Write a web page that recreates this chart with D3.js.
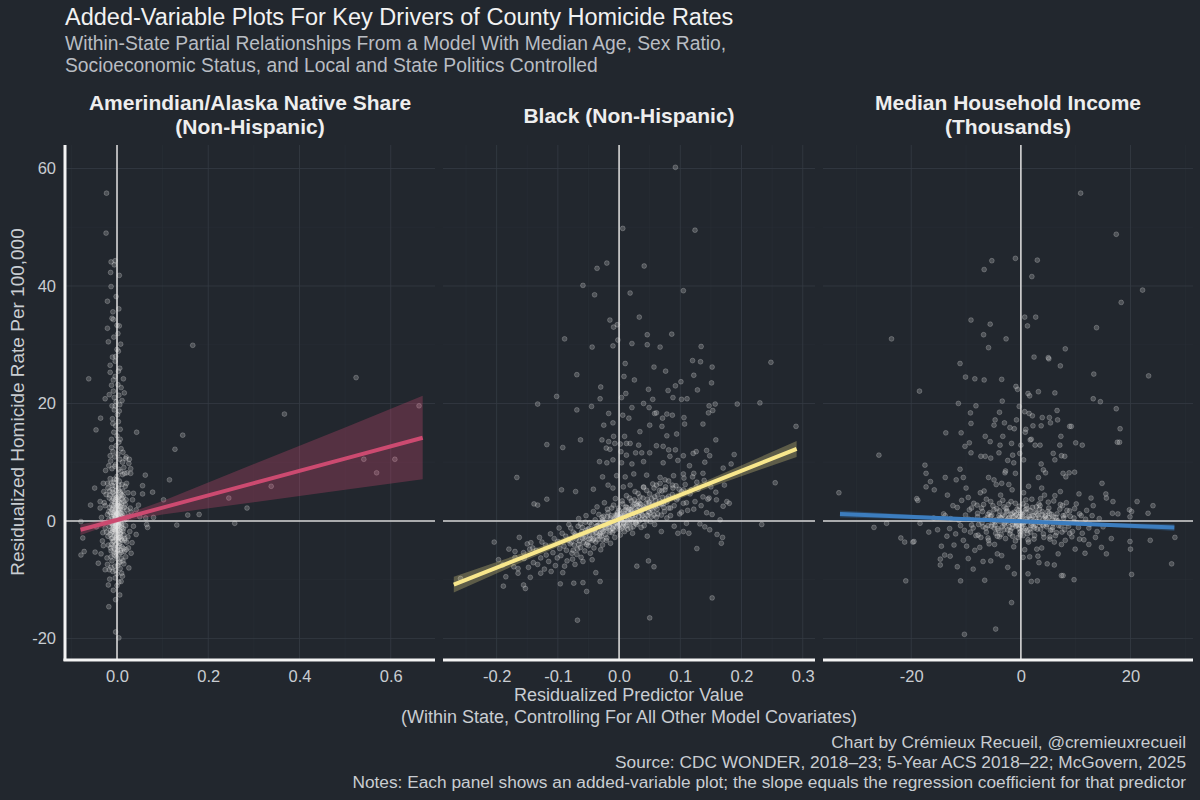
<!DOCTYPE html>
<html>
<head>
<meta charset="utf-8">
<script src="https://cdn.jsdelivr.net/npm/d3@7"></script>
<style>
  body { margin: 0; background: #22272e; }
  svg { display: block; font-family: "Liberation Sans", Arial, sans-serif; }
</style>
</head>
<body>
<div id="chart"></div>
<script>
// Facet titles
const panelTitles = [
    ["Amerindian/Alaska Native Share", "(Non-Hispanic)"],
    ["Black (Non-Hispanic)"],
    ["Median Household Income", "(Thousands)"]
];

// Axis limits and ticks
const xDomains = [[-0.114, 0.697], [-0.2876, 0.320], [-36.1, 31.4]];
const yDomain = [-23.5, 64];
const xTicks = [[0, 0.2, 0.4, 0.6], [-0.2, -0.1, 0, 0.1, 0.2, 0.3], [-20, 0, 20]];
const xTickLabels = [["0.0", "0.2", "0.4", "0.6"], ["-0.2", "-0.1", "0.0", "0.1", "0.2", "0.3"], ["-20", "0", "20"]];
const xMinor = [[-0.1, 0.1, 0.3, 0.5], [-0.25, -0.15, -0.05, 0.05, 0.15, 0.25], [-30, -10, 10, 30]];
const yTicks = [-20, 0, 20, 40, 60];
const yMinor = [-10, 10, 30, 50];

// Residualized points, panel 1: Amerindian share
const amerPoints = [
    [-0.023,55.8],[-0.024,49.0],[-0.013,44.1],[-0.004,44.3],[-0.006,43.6],[-0.014,42.3],[0.005,41.8],[-0.013,39.9],[-0.021,37.4],[-0.011,34.5],
    [-0.008,34.3],[0.0,33.3],[0.005,33.2],[-0.021,32.8],[-0.007,31.3],[-0.019,30.5],[0.0,29.2],[0.003,28.9],[-0.003,28.0],[-0.015,26.5],
    [-0.015,25.3],[-0.008,24.0],[0.014,24.2],[-0.062,24.2],[0.016,21.8],[-0.026,20.8],[-0.011,19.6],[-0.004,19.6],[-0.036,17.5],[-0.046,15.5],
    [0.043,15.1],[0.166,29.9],[0.144,14.6],[0.127,12.2],[0.367,18.2],[0.524,24.4],[0.662,19.6],[0.541,10.5],[0.609,10.5],[0.569,8.2],
    [0.338,5.9],[0.245,3.9],[0.285,2.2],[0.18,1.1],[0.155,1.0],[0.131,-0.7],[0.258,-0.4],[0.115,7.0],[0.102,3.6],[0.078,4.9],
    [0.062,7.8],[0.056,6.0],[0.056,4.6],[0.08,0.6],[0.067,-1.1],[-0.079,-0.1],[-0.079,-5.8],[-0.075,-2.9],[-0.072,-5.2],[-0.049,5.6],
    [-0.058,2.7],[-0.048,-5.3],[-0.018,-14.6],[-0.003,-18.9],[0.004,-19.9],[0.0,-11.0],[0.009,-10.3],[0.013,-6.8],[0.017,-3.3],[0.027,10.5],
    [0.017,8.1],[0.02,10.9],[0.03,8.1],[0.021,6.4],[0.036,4.7],[0.034,3.6],[0.047,2.7],[0.05,0.7],[0.063,0.5],[0.065,-0.6],
    [0.042,1.9],[0.02,3.6],[-0.037,3.3],[-0.03,6.4],[-0.021,6.4],[-0.045,-1.0],[-0.041,-7.2],[-0.026,-8.3],[-0.016,-9.9],[0.026,-8.0],
    [-0.002,38.2],[0.004,36.1],[-0.009,35.6],[0.002,31.9],[-0.004,27.2],[0.006,26.0],[-0.012,23.1],[0.009,22.7],[-0.017,21.5],[0.011,20.5],
    [-0.004,24.6],[0.002,23.2],[-0.008,22.1],[0.004,21.4],[-0.002,20.3],[0.006,19.8],[-0.006,18.9],[0.001,18.1],[-0.01,17.4],[0.003,16.9],
    [-0.003,16.2],[0.007,15.6],[-0.007,15.1],[0.0,14.5],[-0.012,13.9],[0.004,13.4],[-0.002,12.8],[0.009,12.3],[-0.009,11.8],[0.002,11.4],
    [-0.005,10.9],[0.006,10.5],[-0.014,10.2],[0.012,10.0],[0.019,10.6],[0.026,9.8],[0.03,8.9],[0.015,9.1],[0.022,8.2],[-0.018,9.4],
    [-0.025,8.6],[-0.011,8.9],[0.008,8.4],[-0.003,9.6],[0.0,7.6],[-0.006,7.1],[0.005,6.8],[-0.013,6.4],[0.011,6.2],[0.018,5.9],
    [-0.02,5.6],[-0.003,5.9],[0.003,5.2],[-0.009,4.9],[0.008,4.6],[0.014,4.2],[-0.016,4.4],[-0.001,4.0],[0.024,4.8],[-0.028,3.1],
    [0.004,3.7],[-0.006,3.3],[0.01,3.0],[-0.012,2.7],[0.002,2.5],[0.016,2.3],[-0.004,2.0],[0.007,1.8],[-0.018,1.6],[-0.008,1.4],
    [0.001,1.2],[0.012,1.0],[-0.002,0.8],[0.005,0.6],[-0.011,0.4],[0.02,0.3],[-0.005,0.1],[0.003,-0.1],[-0.015,-0.3],[0.009,-0.4],
    [-0.001,-0.6],[0.006,-0.9],[-0.008,-1.1],[0.014,-1.3],[-0.003,-1.5],[0.002,-1.8],[-0.012,-2.0],[0.008,-2.2],[-0.006,-2.5],[0.004,-2.8],
    [-0.02,-2.6],[0.017,-3.0],[-0.001,-3.2],[-0.009,-3.5],[0.006,-3.8],[-0.004,-4.1],[0.011,-4.4],[-0.014,-4.6],[0.001,-4.9],[-0.007,-5.3],
    [0.005,-5.6],[-0.002,-6.0],[0.009,-6.4],[-0.011,-6.8],[0.003,-7.2],[-0.005,-7.7],[0.007,-8.1],[-0.009,-8.6],[0.0,-9.0],[-0.004,-9.7],
    [0.004,-10.4],[-0.022,-6.3],[-0.03,-4.2],[-0.026,-1.2],[-0.034,0.6],[0.028,-1.8],[0.031,1.5],[0.036,-0.9],[0.042,-2.3],[0.025,-4.6],
    [-0.037,2.2],[-0.032,-3.4],[0.019,-6.1],[-0.017,-8.3],[0.001,0.3],[-0.002,-0.4],[0.003,1.6],[-0.004,-1.2],[0.0,-2.3],[0.002,2.9],
    [-0.001,-3.9],[0.004,0.0],[-0.006,0.9],[0.005,-1.6],[-0.003,3.6],[0.001,-5.1],[-0.007,-0.2],[0.006,2.1],[-0.01,-1.8],[0.0,1.1],
    [-0.002,-2.9],[0.003,-0.7],[-0.005,1.7],[0.002,-4.4],[-0.001,2.4],[0.005,0.4],[-0.004,-0.9],[0.001,-1.4],[-0.003,0.6],[0.002,0.1],
    [-0.021,1.1],[0.019,-0.8],[-0.017,3.9],[0.015,-2.4],[-0.023,-1.9],[0.022,1.9],[-0.019,-4.1],[0.013,5.1],[-0.015,7.2],[0.016,-5.2],
    [-0.024,4.5],[0.021,-3.6],[-0.013,-6.1],[0.012,7.9],[-0.018,0.2],[0.018,2.8],[-0.012,-3.0],[0.01,-1.1],[-0.016,2.3],[0.014,0.5],
    [-0.01,5.4],[0.009,-3.1],[-0.014,-1.6],[0.011,3.8],[-0.008,-4.4],[0.007,4.9],[-0.011,1.9],[0.008,-0.2],[-0.009,-0.7],[0.006,1.4],
    [-0.007,2.6],[0.005,-2.9],[-0.006,-5.8],[0.004,6.1],[-0.005,4.3],[0.003,-3.5],[-0.004,-2.1],[0.002,3.3],[-0.003,1.0],[0.001,-0.9],
    [-0.002,5.2],[0.0,-6.4],[-0.001,7.0],[0.002,-7.6],[-0.003,-8.4],[0.004,8.8],[-0.005,9.3],[0.006,-7.0],[-0.007,6.6],[0.008,-5.0],
    [-0.028,-0.3],[0.027,0.8],[-0.026,2.6],[0.024,-2.7],[-0.031,-2.0],[0.029,2.2],[-0.035,-5.6],[0.033,-3.7],[-0.029,5.0],[0.031,-5.5],
    [-0.012,12.5],[0.007,13.9],[-0.009,16.6],[0.005,18.7],[-0.006,21.0],[0.003,25.5],[-0.01,27.9],[0.008,30.1],[-0.015,11.1],[0.013,11.7],
    [-0.019,-10.9],[0.012,-9.4],[-0.008,-11.8],[0.006,-12.6],[-0.003,-13.4],[0.015,-7.3],[-0.013,-7.9],[0.01,-8.9],[-0.021,-7.4],[0.02,-4.9],
    [-0.011,-0.5],[0.01,0.7],[-0.009,2.2],[0.008,-1.9],[-0.007,-3.4],[0.006,3.1],[-0.005,0.3],[0.004,-0.3],[-0.003,-1.7],[0.002,1.9],
    [-0.001,-2.6],[0.0,2.7],[0.001,-0.1],[-0.002,1.5],[0.003,-1.2],[-0.004,3.0],[0.005,-4.2],[-0.006,4.6],[0.007,0.9],[-0.008,-0.4],
    [0.009,1.3],[-0.01,-2.9],[0.011,-3.3],[-0.012,0.8],[0.012,2.0],[-0.011,3.5],[0.01,-0.7],[-0.009,-1.4],[0.008,2.4],[-0.007,1.1],
    [0.006,-2.1],[-0.005,-4.8],[0.004,4.1],[-0.003,0.0],[0.002,-3.0],[-0.001,1.3],[0.0,-1.0],[0.001,3.9],[-0.002,-5.5],[0.003,5.6],
    [-0.004,-0.6],[0.005,2.6],[-0.006,-1.5],[0.007,-2.7],[-0.008,3.8],[0.009,-5.4],[-0.01,6.0],[0.011,4.4],[-0.012,-4.0],[0.0,0.0],
    [-0.014,1.4],[0.013,-1.7],[-0.015,-2.3],[0.015,3.3],[-0.016,5.1],[0.016,0.1],[-0.013,-5.1],[0.014,-4.7],[-0.017,-0.9],[0.017,1.2]
];

// Panel 2: Black share
const blackPoints = [
    [0.092,60.2],[0.006,49.8],[0.124,49.5],[-0.02,43.9],[-0.036,43.0],[0.041,43.4],[-0.059,40.1],[-0.04,38.5],[0.018,38.8],[0.105,39.2],
    [0.033,34.7],[-0.015,34.2],[-0.009,33.0],[-0.003,33.4],[-0.089,31.0],[0.046,31.7],[0.086,31.8],[-0.002,30.8],[-0.044,29.6],[-0.01,29.8],
    [0.021,30.2],[0.046,30.0],[0.067,29.6],[0.134,29.7],[0.248,27.0],[0.12,27.3],[0.133,27.1],[0.01,26.8],[0.057,26.2],[0.076,25.5],
    [0.152,26.2],[-0.069,24.9],[0.008,24.6],[0.025,24.0],[0.122,24.8],[0.101,23.7],[0.092,23.0],[0.08,22.2],[0.151,23.5],[-0.03,22.8],
    [0.048,22.4],[0.011,21.7],[0.004,21.0],[0.088,21.0],[0.102,20.7],[0.111,20.8],[0.128,22.3],[-0.102,21.2],[-0.031,20.8],[0.04,20.0],
    [0.055,20.7],[-0.133,19.9],[-0.045,19.5],[0.021,19.3],[0.049,19.3],[0.147,19.6],[0.157,19.9],[0.193,19.9],[0.23,20.1],[-0.069,18.9],
    [0.006,18.0],[0.058,18.3],[0.061,18.4],[0.078,18.2],[0.087,18.0],[0.106,17.6],[0.146,18.4],[0.153,18.8],[-0.017,18.3],[-0.01,16.7],
    [-0.025,16.3],[0.016,17.5],[0.05,16.3],[0.071,17.5],[0.107,16.5],[0.137,16.5],[0.289,16.1],[0.034,15.2],[0.07,16.1],[-0.009,14.4],
    [0.009,14.4],[0.094,14.8],[0.078,14.5],[-0.028,13.8],[-0.017,13.5],[-0.063,13.8],[-0.007,13.2],[0.002,13.1],[0.012,13.2],[0.018,13.2],
    [-0.118,13.0],[-0.092,12.5],[0.158,13.8],[0.032,12.9],[0.061,12.8],[0.072,12.7],[-0.021,12.4],[-0.015,12.2],[0.003,11.8],[0.027,11.6],
    [0.037,11.6],[0.05,11.6],[0.081,12.1],[0.092,12.1],[0.126,11.8],[0.143,12.0],[0.188,11.3],[0.012,11.2],[0.083,11.0],[0.105,11.1],
    [0.121,11.5],[0.148,11.1],[-0.032,10.1],[-0.02,9.9],[-0.01,10.4],[0.004,9.9],[0.021,9.7],[0.04,10.1],[0.072,9.9],[0.096,10.3],
    [0.115,9.4],[0.14,10.0],[0.183,9.7],[0.17,9.0],[-0.167,7.4],[-0.027,7.5],[-0.004,7.7],[0.01,7.5],[0.024,8.0],[0.045,7.8],
    [0.067,7.4],[0.089,7.7],[0.105,8.0],[0.122,8.1],[0.137,8.1],[0.255,6.5],[-0.094,5.3],[-0.071,5.0],[-0.042,5.4],[-0.018,6.1],
    [-0.01,5.6],[0.007,5.8],[0.018,6.1],[0.04,5.8],[0.061,6.1],[0.076,5.8],[0.088,5.6],[0.105,5.3],[0.126,5.8],[0.147,3.9],
    [0.159,3.6],[0.176,3.3],[-0.139,2.9],[-0.133,2.7],[-0.118,3.7],[-0.204,-3.6],[-0.189,-11.1],[-0.259,-9.8],[-0.156,-10.9],[-0.153,-11.5],
    [-0.068,-16.9],[0.05,-16.5],[0.152,-13.1],[0.233,-0.6],[0.127,-4.7],[0.167,-3.8],[0.169,-2.8],[0.14,-1.0],[0.148,-1.5],[0.105,-1.8],
    [0.096,-2.1],[0.11,-0.4],[-0.053,-12.0],[-0.031,-10.3],[-0.096,-10.7],[-0.074,-10.6],[-0.059,-10.5],[-0.038,-8.8],[0.029,-7.7],[0.057,-7.8],
    [0.048,-6.8],[-0.17,-6.2],[-0.165,-8.1],[-0.128,-8.9],[-0.144,-3.7],[-0.146,-4.8],
    [-0.19,-7.5],[-0.17,-5.2],[-0.165,-8.9],[-0.155,-6.4],[-0.15,-3.9],[-0.145,-9.6],[-0.14,-7.1],[-0.135,-5.0],[-0.13,-2.8],[-0.128,-6.3],
    [-0.122,-8.2],[-0.12,-4.1],[-0.115,-6.9],[-0.112,-2.2],[-0.108,-5.4],[-0.104,-7.6],[-0.1,-3.5],[-0.098,-1.2],[-0.095,-5.9],[-0.092,-8.8],
    [-0.09,-4.3],[-0.087,-2.6],[-0.085,-6.8],[-0.082,-0.6],[-0.08,-3.9],[-0.077,-5.5],[-0.075,-1.9],[-0.072,-7.4],[-0.07,-3.1],[-0.068,-4.8],
    [-0.066,0.4],[-0.064,-2.4],[-0.062,-6.2],[-0.06,-1.1],[-0.058,-3.7],[-0.056,-5.1],[-0.054,0.9],[-0.052,-2.0],[-0.05,-4.2],[-0.048,-0.3],
    [-0.046,-3.0],[-0.044,-6.6],[-0.042,1.6],[-0.04,-1.5],[-0.038,-3.6],[-0.036,2.4],[-0.034,-0.7],[-0.032,-2.5],[-0.03,-4.9],[-0.028,0.6],
    [-0.026,-1.8],[-0.024,3.1],[-0.022,-0.2],[-0.02,-2.9],[-0.018,1.4],[-0.016,-1.0],[-0.014,-3.8],[-0.012,2.2],[-0.01,0.1],[-0.008,-1.6],
    [-0.006,3.8],[-0.004,0.9],[-0.002,-0.8],[0.0,1.8],[0.002,-2.4],[0.004,0.4],[0.006,2.9],[0.008,-0.5],[0.01,1.2],[0.012,4.3],
    [0.014,-1.4],[0.016,2.0],[0.018,0.2],[0.02,3.4],[0.022,-2.1],[0.024,1.3],[0.026,5.0],[0.028,-0.2],[0.03,2.6],[0.032,0.8],
    [0.034,4.1],[0.036,-1.1],[0.038,1.9],[0.04,5.7],[0.042,0.4],[0.044,3.0],[0.046,-2.6],[0.048,1.6],[0.05,4.6],[0.052,2.1],
    [0.055,6.3],[0.058,-0.6],[0.06,3.5],[0.063,1.2],[0.066,5.2],[0.069,-1.8],[0.072,2.9],[0.075,7.0],[0.078,0.5],[0.081,4.2],
    [0.084,2.2],[0.087,6.1],[0.09,-0.9],[0.094,3.6],[0.098,5.4],[0.102,1.5],[0.106,7.3],[0.11,3.1],[0.114,-2.1],[0.118,5.3],
    [0.122,2.0],[0.127,6.6],[0.132,-0.5],[0.137,4.1],[0.143,1.4],[0.15,5.8],[0.16,-2.3],[0.17,2.5],
    [-0.055,-2.7],[-0.049,-1.3],[-0.043,-3.3],[-0.037,-0.9],[-0.031,-2.2],[-0.027,0.2],[-0.023,-1.4],[-0.019,0.7],[-0.015,-0.4],[-0.011,-2.0],
    [-0.007,0.3],[-0.003,1.4],[0.001,-0.6],[0.003,0.7],[0.005,-1.2],[0.007,1.6],[0.009,0.0],[0.011,-0.9],[0.013,2.3],[0.015,0.6],
    [0.017,-0.3],[0.019,1.9],[0.021,0.9],[0.023,-1.0],[0.025,2.8],[0.027,1.1],[0.029,-0.6],[0.031,3.3],[0.033,1.5],[0.037,0.3],
    [0.041,2.4],[0.045,1.0],[0.049,3.2],[0.053,0.7],[0.057,2.6],[-0.001,0.2],[-0.005,-0.3],[0.0,0.5],[0.002,1.0],[-0.009,-0.8],
    [-0.148,-7.9],[-0.141,-4.6],[-0.133,-7.4],[-0.126,-3.6],[-0.119,-5.8],[-0.111,-8.6],[-0.106,-3.0],[-0.101,-6.3],[-0.097,-4.7],[-0.093,-2.1],
    [-0.089,-7.7],[-0.086,-5.0],[-0.083,-3.3],[-0.079,-1.2],[-0.076,-6.5],[-0.073,-4.1],[-0.071,-2.5],[-0.069,-5.7],[-0.067,-0.9],[-0.065,-3.4],
    [-0.063,-4.5],[-0.061,-1.8],[-0.059,-6.9],[-0.057,-2.9],[-0.055,-0.2],[-0.053,-4.0],[-0.051,-1.4],[-0.049,-3.1],[-0.047,-5.5],[-0.045,-0.6],
    [-0.043,-2.3],[-0.041,-4.6],[-0.039,0.2],[-0.037,-1.9],[-0.035,-3.2],[-0.033,1.1],[-0.031,-0.4],[-0.029,-2.6],[-0.027,-4.1],[-0.025,0.8],
    [-0.023,-1.1],[-0.021,-3.3],[-0.019,2.0],[-0.017,-0.3],[-0.015,-1.9],[-0.013,0.9],[-0.011,-1.2],[-0.009,2.7],[-0.007,-2.8],[-0.005,0.6],
    [-0.003,-0.5],[-0.001,2.2],[0.001,-1.5],[0.003,1.3],[0.005,3.4],[0.007,-0.3],[0.009,0.8],[0.011,2.4],[0.013,-0.7],[0.015,1.5],
    [0.017,3.9],[0.019,-1.2],[0.021,2.0],[0.023,0.3],[0.025,3.6],[0.027,-0.4],[0.029,1.8],[0.031,4.7],[0.033,0.0],[0.035,2.8],
    [0.037,1.2],[0.039,3.9],[0.041,-0.8],[0.043,2.1],[0.045,5.2],[0.047,0.9],[0.049,2.9],[0.051,-0.1],[0.053,3.8],[0.055,1.7],
    [0.057,5.6],[0.059,2.4],[0.061,0.6],[0.063,4.4],[0.065,2.7],[0.067,6.4],[0.069,1.0],[0.071,4.0],[0.073,2.3],[0.075,5.3],
    [0.078,3.2],[0.081,6.8],[0.084,0.9],[0.087,4.5],[0.09,2.6],[0.093,6.0],[0.096,3.9],[0.099,1.2],[0.102,5.0],[0.105,3.0],
    [0.108,6.2],[0.112,1.8],[0.116,4.6],[0.12,7.5],[0.124,3.3],[0.129,5.4],[0.134,2.6],[0.139,6.9],[0.145,3.7],[0.152,1.1],
    [0.158,4.9],[0.165,0.2],[0.172,6.1],[0.18,3.0],[-0.156,-5.4],[-0.163,-2.8],[-0.172,-7.8],[-0.18,-4.8],[-0.185,-9.5],[-0.197,-6.6],
    [-0.078,-3.6],[-0.072,-2.2],[-0.066,-4.0],[-0.06,-2.9],[-0.054,-1.6],[-0.048,-2.4],[-0.042,-3.1],[-0.036,-0.8],[-0.03,-1.9],[-0.026,-0.1],
    [-0.022,-2.3],[-0.018,-0.6],[-0.014,0.5],[-0.01,-1.3],[-0.006,1.0],[-0.002,-0.2],[0.002,0.6],[0.006,-0.9],[0.01,1.9],[0.014,0.1],
    [0.018,1.2],[0.022,2.5],[0.026,0.4],[0.03,1.7],[0.034,3.0],[0.038,0.9],[0.042,2.2],[0.046,3.7],[0.05,1.4],[0.054,2.9],
    [0.058,4.1],[0.062,2.0],[0.066,3.4],[0.07,5.1],[0.074,1.6],[0.078,3.9],[-0.075,-5.0],[-0.063,-0.5],[-0.051,-3.7],[-0.039,-2.0],
    [-0.027,-3.2],[-0.015,-1.6],[-0.003,1.1],[0.009,-1.8],[0.021,-0.2],[0.033,2.4],[0.045,0.0],[0.057,1.0],[0.069,2.9],[0.081,2.2],
    [-0.005,-1.0],[0.004,0.2],[0.012,0.9],[-0.012,-0.4],[0.02,1.6],[-0.02,-1.2],[0.028,2.9],[-0.028,-1.5],[0.036,1.8],[-0.036,-2.7]
];

// Panel 3: median household income (thousands)
const incomePoints = [
    [10.9,55.8],[17.4,48.8],[22.2,39.3],[18.3,37.2],[23.3,24.7],[13.8,32.9],[-5.3,44.3],[-1.0,44.7],[3.0,44.4],[-6.7,42.8],
    [2.0,41.6],[-23.6,31.0],[-9.1,34.2],[-5.6,33.5],[0.7,34.7],[2.7,34.7],[1.2,33.2],[-6.8,31.7],[-2.7,31.0],[-5.9,29.5],
    [8.1,29.3],[2.4,27.9],[5.0,27.8],[5.1,27.6],[7.2,26.4],[13.3,25.0],[-11.1,26.8],[-10.1,24.5],[-8.4,24.2],[-6.7,24.0],
    [-3.5,24.1],[-18.5,22.1],[-0.9,22.9],[-0.6,22.4],[1.3,21.7],[1.6,21.3],[3.2,22.0],[6.2,21.8],[13.2,20.8],[14.5,20.3],
    [-11.4,20.0],[-8.2,19.6],[-3.4,20.4],[-0.3,19.5],[17.4,19.1],[-9.2,18.4],[-3.9,18.5],[-0.8,17.2],[0.7,18.6],[1.5,18.3],
    [2.1,17.9],[3.9,17.6],[5.2,17.6],[6.6,18.8],[6.7,17.2],[-4.7,17.2],[-4.9,16.3],[-3.0,16.7],[-9.1,16.6],[-2.0,15.9],
    [-1.2,15.7],[0.9,15.6],[2.2,16.2],[3.7,16.2],[5.4,16.7],[8.9,16.1],[18.1,15.7],[-13.7,15.0],[-10.9,15.0],[0.8,15.1],
    [1.9,13.9],[1.7,13.8],[-6.5,14.4],[-3.3,14.4],[7.3,14.4],[9.2,16.1],[10.0,13.3],[11.2,12.9],[17.6,13.4],[18.0,13.4],
    [-10.2,12.7],[-9.4,13.3],[-5.6,13.5],[-3.8,12.9],[-1.7,13.2],[0.0,12.9],[2.6,12.9],[3.5,12.9],[7.1,12.9],[-9.1,11.6],
    [-7.3,11.0],[-6.5,11.0],[-5.5,10.7],[-4.0,11.6],[-1.5,11.2],[-0.2,11.5],[5.9,11.5],[7.4,11.1],[8.0,11.0],[-25.9,11.2],
    [-17.5,9.5],[-2.4,10.3],[-1.3,9.9],[0.5,10.4],[3.7,9.7],[6.2,10.4],[-17.3,8.1],[-11.1,8.8],[-13.8,7.4],[-11.8,7.0],
    [-10.5,7.4],[-2.8,8.5],[-2.9,8.2],[-1.0,8.1],[4.1,8.7],[4.5,8.2],[7.7,8.1],[8.8,8.2],[9.8,8.3],[8.2,7.5],
    [3.2,7.4],[-5.9,7.4],[-4.9,7.0],[-3.5,6.4],[-17.3,5.8],[-16.5,6.7],[14.8,6.4],[-33.2,4.8],[-19.0,3.8],[-18.8,3.5],
    [-15.8,5.3],[15.5,4.6],[15.6,3.9],[16.8,3.3],[21.2,3.3],[24.1,2.6],[23.2,1.3],[19.8,1.9],[20.2,1.6],[19.9,0.7],
    [17.7,1.2],[16.7,1.3],[-26.8,-1.1],[-24.5,-0.4],[-18.4,-0.4],[-21.9,-2.9],[-21.2,-3.6],[-19.7,-3.6],[-19.5,-3.5],[-21.0,-10.2],
    [-14.7,-6.5],[-14.7,-7.5],[-13.9,-5.8],[-11.6,-7.8],[-11.0,-10.2],[-8.7,-8.2],[-6.6,-10.1],[-5.5,-6.8],[-2.4,-7.9],[-1.2,-9.0],
    [-1.7,-13.9],[-4.6,-18.4],[-10.3,-19.3],[1.3,-9.0],[1.9,-10.3],[3.0,-10.2],[7.4,-9.3],[7.7,-9.3],[9.7,-10.0],[20.2,-9.1],
    [27.5,-7.3],[28.1,-2.8],[23.6,-3.3],[19.9,-3.5],[20.0,-4.8],[15.6,-5.6],[14.7,-4.5],[16.5,-3.0],[10.7,-3.1],[11.7,-5.5],
    [3.1,-6.0],[3.3,-7.1],[4.8,-7.3],[6.1,-7.5],[0.4,-6.2],[1.6,-6.1],
    [-15.2,-1.5],[-14.1,1.2],[-13.5,-2.6],[-12.8,0.4],[-12.2,-4.1],[-11.6,2.3],[-11.0,-0.8],[-10.5,-3.3],[-10.1,1.0],[-9.6,4.0],
    [-9.2,-1.9],[-8.8,0.2],[-8.4,-5.0],[-8.0,2.7],[-7.7,-0.6],[-7.3,-2.8],[-7.0,1.6],[-6.7,5.1],[-6.4,-1.2],[-6.1,0.6],
    [-5.8,-3.9],[-5.5,3.3],[-5.2,-0.3],[-4.9,1.9],[-4.6,-2.1],[-4.3,-5.6],[-4.0,0.9],[-3.7,4.4],[-3.4,-1.0],[-3.1,2.4],
    [-2.8,-3.0],[-2.5,0.1],[-2.2,6.2],[-1.9,-1.7],[-1.6,1.3],[-1.3,-4.4],[-1.0,3.0],[-0.7,-0.5],[-0.4,1.8],[-0.1,-2.4],
    [0.2,0.8],[0.5,4.8],[0.8,-1.3],[1.1,2.1],[1.4,-3.6],[1.7,0.3],[2.0,3.7],[2.3,-0.9],[2.6,1.5],[2.9,-4.8],
    [3.2,-0.2],[3.5,2.6],[3.8,5.6],[4.1,-2.2],[4.4,0.7],[4.7,-1.0],[5.0,3.2],[5.3,-3.1],[5.6,1.1],[5.9,-0.5],
    [6.2,4.3],[6.5,-2.0],[6.8,0.0],[7.1,2.0],[7.4,-4.0],[7.7,0.9],[8.0,-1.5],[8.3,3.1],[8.6,-0.4],[8.9,1.7],
    [9.3,-2.7],[9.7,0.5],[10.1,2.9],[10.5,-1.1],[11.0,0.9],[11.5,-3.2],[12.0,1.8],[12.6,-0.6],[13.2,2.6],[13.9,-1.8],
    [-6.0,-0.8],[-5.3,1.0],[-4.7,-0.2],[-4.1,-1.6],[-3.6,0.5],[-3.0,-0.4],[-2.6,1.6],[-2.1,-1.0],[-1.7,0.2],[-1.2,-0.3],
    [-0.8,1.1],[-0.3,-1.3],[0.0,0.4],[0.4,-0.6],[0.9,1.5],[1.3,-0.1],[1.8,-1.9],[2.2,0.9],[2.7,-0.7],[3.1,1.0],
    [3.6,-1.4],[4.1,0.3],[4.6,-0.3],[5.2,1.3],[5.8,-1.1],[-2.3,2.8],[-0.5,-2.8],[1.0,2.6],[2.5,-2.5],[-3.9,-2.7],
    [-1.4,0.7],[0.6,-1.6],[3.4,2.0],[-4.4,2.1],[6.4,0.6],
    [-13.8,0.9],[-13.0,-1.3],[-12.4,2.6],[-11.9,-2.2],[-11.3,0.1],[-10.8,3.5],[-10.3,-1.6],[-9.9,-4.3],[-9.4,1.9],[-9.0,-0.7],
    [-8.6,3.0],[-8.2,-2.5],[-7.9,0.7],[-7.5,-4.5],[-7.2,2.2],[-6.9,-1.0],[-6.6,0.3],[-6.3,3.7],[-6.0,-2.9],[-5.7,1.4],
    [-5.4,-0.9],[-5.1,2.6],[-4.8,-4.0],[-4.5,0.2],[-4.2,-1.3],[-3.9,3.0],[-3.6,-2.3],[-3.3,1.0],[-3.0,-0.6],[-2.7,2.1],
    [-2.4,-1.5],[-2.1,0.6],[-1.8,3.3],[-1.5,-2.6],[-1.2,1.5],[-0.9,-0.9],[-0.6,0.3],[-0.3,2.5],[0.0,-1.7],[0.3,1.1],
    [0.6,-0.1],[0.9,3.6],[1.2,-2.2],[1.5,0.8],[1.8,-0.8],[2.1,2.3],[2.4,-3.1],[2.7,0.4],[3.0,-1.4],[3.3,2.9],
    [3.6,-0.3],[3.9,1.6],[4.2,-2.8],[4.5,0.9],[4.8,-0.6],[5.1,2.2],[5.4,-1.6],[5.7,0.2],[6.0,3.4],[6.3,-2.5],
    [6.6,1.2],[6.9,-0.8],[7.2,2.8],[7.5,-1.9],[7.8,0.5],[8.1,-3.3],[8.4,1.8],[8.7,-0.9],[9.0,0.8],[9.4,-1.8],
    [9.8,2.1],[10.2,-0.3],[10.7,1.2],[11.2,-2.1],[11.8,0.3],[12.4,-1.2],[13.0,0.9],[13.6,-2.8],[14.3,0.4],[15.0,-1.0],
    [-15.9,0.5],[-16.8,-1.9],[-14.5,-4.3],[-12.9,-6.0],[-9.6,-6.4],[-6.9,-6.9],[-3.5,-5.9],[0.7,-4.9],[3.8,-4.6],[6.8,-5.6],
    [9.9,-4.8],[12.4,-4.0],[-13.4,4.4],[-10.0,5.6],[-7.4,4.8],[-4.5,6.2],[-1.6,5.3],[1.4,5.9],[4.3,4.4],[7.2,5.0],
    [10.6,4.6],[12.8,3.9],[-2.0,-0.2],[-1.0,0.9],[0.2,-0.4],[1.1,0.5],[2.0,-0.5],[-0.5,-0.8],[0.8,1.9],[-1.6,-1.2],
    [2.9,1.3],[-2.9,0.8],[1.6,-1.4],[-0.2,0.1],[0.4,-2.5],[-3.8,-0.1],[3.9,-0.6],[-4.9,-1.2],[5.0,0.6],[-0.1,1.4],
    [-9.5,0.3],[-8.7,-1.2],[-7.9,1.3],[-7.1,-0.3],[-6.3,-1.9],[-5.5,0.8],[-4.7,-0.7],[-3.9,1.7],[-3.1,-1.5],[-2.3,0.4],
    [-1.5,-0.6],[-0.7,2.0],[0.1,-0.9],[0.9,0.3],[1.7,1.8],[2.5,-1.2],[3.3,0.5],[4.1,-0.8],[4.9,1.6],[5.7,-1.5],
    [6.5,0.1],[7.3,-0.9],[8.1,1.0],[8.9,-2.1],[9.7,-0.2],[-9.0,2.2],[-6.8,2.8],[-4.3,-2.6],[-2.0,-2.2],[0.4,2.9],
    [2.8,2.4],[5.3,-2.7],[7.6,2.6],[-1.0,-3.4],[1.3,-3.2],[-3.3,3.5],[3.6,3.8],[-5.9,-3.3],[6.1,-3.6],[-0.4,0.7],
    [0.6,-0.3],[-1.8,1.1],[1.9,0.9],[-2.8,-0.2],[2.9,-0.1],[-3.8,0.6],[3.9,1.1],[-4.9,0.1],[4.6,0.4],[-0.2,-1.9],
    [1.1,-1.6],[-1.3,0.0],[0.0,1.2],[-2.5,1.7],[2.3,0.0],[-6.0,1.1],[5.9,0.7],[-7.8,-2.4],[8.0,-0.4],[-0.8,-0.7]
];

// Fitted lines and 95% bands, read at a few x positions: [x, fit, lower, upper]
const amerFit = [[-0.08,-1.5,-2.4,-0.6],[0,0.17,-0.25,0.6],[0.1,2.26,1.1,3.4],[0.3,6.44,3.2,9.7],[0.5,10.6,5.3,15.9],[0.67,14.17,7.1,21.3]];
const blackFit = [[-0.27,-10.84,-12.2,-9.5],[-0.15,-5.89,-6.6,-5.2],[0,0.3,-0.05,0.65],[0.15,6.49,5.8,7.2],[0.29,12.26,10.9,13.6]];
const incomeFit = [[-33,1.19,0.6,1.8],[-15,0.51,0.2,0.8],[0,-0.06,-0.3,0.2],[15,-0.63,-0.95,-0.3],[28,-1.12,-1.7,-0.55]];

const panelPoints = [amerPoints, blackPoints, incomePoints];
const panelFits = [amerFit, blackFit, incomeFit];
const fitColors = ["#cc4a70", "#f8e78c", "#3c7dbf"];
const bandOpacity = [0.3, 0.28, 0.3];

const W = 1200, H = 800;
const panelLeft = [65, 443, 823], panelRight = [435, 815, 1193];
const plotTop = 145, plotBottom = 659;
const font = "'Liberation Sans', Arial, sans-serif";

const svg = d3.select("#chart").append("svg")
    .attr("width", W)
    .attr("height", H)
    .style("background", "#22272e");

svg.append("rect").attr("width", W).attr("height", H).attr("fill", "#22272e");

const y = d3.scaleLinear().domain(yDomain).range([plotBottom, plotTop]);

// Titles
svg.append("text").attr("x", 65).attr("y", 25)
    .attr("fill", "#f2f2f2").style("font-size", "23.5px")
    .text("Added-Variable Plots For Key Drivers of County Homicide Rates");
svg.append("text").attr("x", 65).attr("y", 50)
    .attr("fill", "#b9bdc3").style("font-size", "19.3px")
    .text("Within-State Partial Relationships From a Model With Median Age, Sex Ratio,");
svg.append("text").attr("x", 65).attr("y", 72)
    .attr("fill", "#b9bdc3").style("font-size", "19.3px")
    .text("Socioeconomic Status, and Local and State Politics Controlled");

panelTitles.forEach((lines, i) => {
    const t = svg.append("text")
        .attr("x", (panelLeft[i] + panelRight[i]) / 2)
        .attr("text-anchor", "middle")
        .attr("fill", "#eeeeee")
        .style("font-size", "21px")
        .style("font-weight", "bold");
    lines.forEach((line, j) => {
        t.append("tspan")
            .attr("x", (panelLeft[i] + panelRight[i]) / 2)
            .attr("y", lines.length === 1 ? 123 : 110 + j * 24)
            .text(line);
    });
});

// Panels
panelPoints.forEach((pts, i) => {
    const x = d3.scaleLinear().domain(xDomains[i]).range([panelLeft[i], panelRight[i]]);
    const g = svg.append("g");

    // grid
    g.selectAll(".vminor").data(xMinor[i].filter(d => d > xDomains[i][0] && d < xDomains[i][1])).enter().append("line")
        .attr("x1", d => x(d)).attr("x2", d => x(d)).attr("y1", plotTop).attr("y2", plotBottom)
        .attr("stroke", "#2b3038").attr("stroke-width", 0.5);
    g.selectAll(".hminor").data(yMinor).enter().append("line")
        .attr("x1", panelLeft[i]).attr("x2", panelRight[i]).attr("y1", d => y(d)).attr("y2", d => y(d))
        .attr("stroke", "#2b3038").attr("stroke-width", 0.5);
    g.selectAll(".vmajor").data(xTicks[i]).enter().append("line")
        .attr("x1", d => x(d)).attr("x2", d => x(d)).attr("y1", plotTop).attr("y2", plotBottom)
        .attr("stroke", "#353b44").attr("stroke-width", 0.8);
    g.selectAll(".hmajor").data(yTicks).enter().append("line")
        .attr("x1", panelLeft[i]).attr("x2", panelRight[i]).attr("y1", d => y(d)).attr("y2", d => y(d))
        .attr("stroke", "#353b44").attr("stroke-width", 0.8);

    // zero reference lines
    g.append("line")
        .attr("x1", panelLeft[i]).attr("x2", panelRight[i]).attr("y1", y(0)).attr("y2", y(0))
        .attr("stroke", "#d6d6d6").attr("stroke-width", 1.6);
    g.append("line")
        .attr("x1", x(0)).attr("x2", x(0)).attr("y1", plotTop).attr("y2", plotBottom)
        .attr("stroke", "#d6d6d6").attr("stroke-width", 1.6);

    // points
    g.selectAll("circle").data(pts).enter().append("circle")
        .attr("cx", d => x(d[0]))
        .attr("cy", d => y(d[1]))
        .attr("r", 2.4)
        .attr("fill", "#e6e6e6")
        .attr("fill-opacity", 0.22)
        .attr("stroke", "#e6e6e6")
        .attr("stroke-opacity", 0.36)
        .attr("stroke-width", 0.7);

    // confidence band and fit line
    const fit = panelFits[i];
    g.append("path")
        .datum(fit)
        .attr("d", d3.area().x(d => x(d[0])).y0(d => y(d[2])).y1(d => y(d[3])))
        .attr("fill", fitColors[i])
        .attr("fill-opacity", bandOpacity[i]);
    g.append("path")
        .datum(fit)
        .attr("d", d3.line().x(d => x(d[0])).y(d => y(d[1])))
        .attr("fill", "none")
        .attr("stroke", fitColors[i])
        .attr("stroke-width", 4);

    // x axis
    const ax = g.append("g")
        .attr("transform", `translate(0, ${plotBottom})`)
        .call(d3.axisBottom(x).tickValues(xTicks[i]).tickFormat((d, k) => xTickLabels[i][k]).tickSize(0).tickPadding(11));
    ax.select(".domain").remove();
    ax.selectAll("text").attr("fill", "#c9cdd2").style("font-size", "16.5px").style("font-family", font);

    g.append("line")
        .attr("x1", panelLeft[i] - (i === 0 ? 1.5 : 0)).attr("x2", panelRight[i])
        .attr("y1", plotBottom + 1).attr("y2", plotBottom + 1)
        .attr("stroke", "#f4f4f4").attr("stroke-width", 3);
});

// y axis
const ay = svg.append("g")
    .attr("transform", `translate(${panelLeft[0]}, 0)`)
    .call(d3.axisLeft(y).tickValues(yTicks).tickFormat(d => String(d)).tickSize(0).tickPadding(9));
ay.select(".domain").remove();
ay.selectAll("text").attr("fill", "#c9cdd2").style("font-size", "16.5px").style("font-family", font);
svg.append("line")
    .attr("x1", panelLeft[0]).attr("x2", panelLeft[0])
    .attr("y1", plotTop).attr("y2", plotBottom + 2)
    .attr("stroke", "#f4f4f4").attr("stroke-width", 3);

svg.append("text")
    .attr("transform", `translate(24, ${(plotTop + plotBottom) / 2}) rotate(-90)`)
    .attr("text-anchor", "middle")
    .attr("fill", "#c9cdd2").style("font-size", "19px")
    .text("Residualized Homicide Rate Per 100,000");

// x axis title
svg.append("text").attr("x", 629).attr("y", 701).attr("text-anchor", "middle")
    .attr("fill", "#c9cdd2").style("font-size", "18px")
    .text("Residualized Predictor Value");
svg.append("text").attr("x", 629).attr("y", 723).attr("text-anchor", "middle")
    .attr("fill", "#c9cdd2").style("font-size", "18px")
    .text("(Within State, Controlling For All Other Model Covariates)");

// caption
const captions = [
    "Chart by Crémieux Recueil, @cremieuxrecueil",
    "Source: CDC WONDER, 2018–23; 5-Year ACS 2018–22; McGovern, 2025",
    "Notes: Each panel shows an added-variable plot; the slope equals the regression coefficient for that predictor"
];
captions.forEach((c, i) => {
    svg.append("text").attr("x", 1186).attr("y", 748 + i * 20).attr("text-anchor", "end")
        .attr("fill", "#c9cdd2").style("font-size", "17.3px")
        .text(c);
});
</script>
</body>
</html>
